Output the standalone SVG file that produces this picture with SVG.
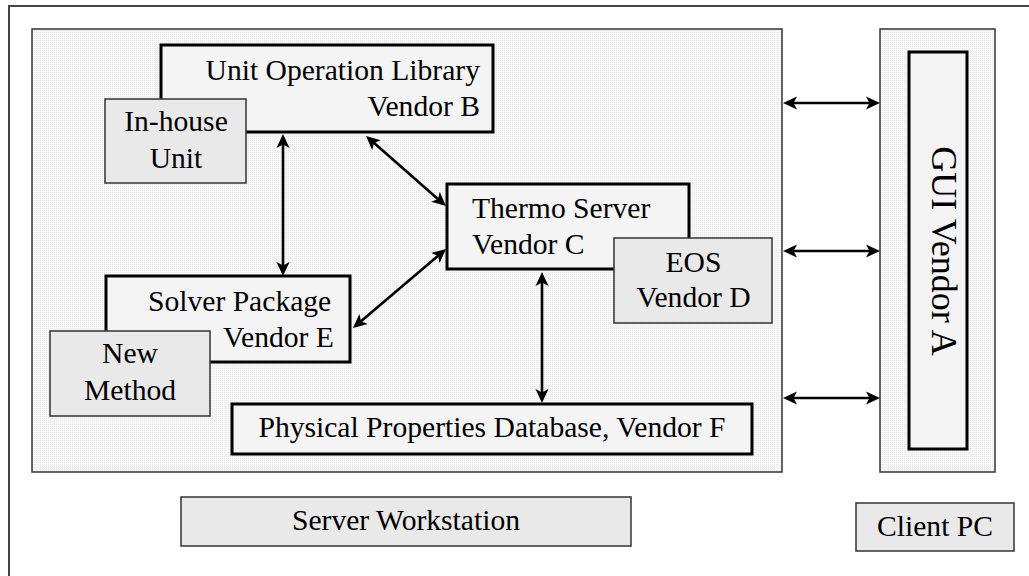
<svg xmlns="http://www.w3.org/2000/svg" width="1029" height="576" viewBox="0 0 1029 576">
<style>
text{font-family:"Liberation Serif","Times New Roman",serif;font-size:29.6px;fill:#000}
.c{text-anchor:middle}
.e{text-anchor:end}
.cont{fill:url(#dots);stroke:#333;stroke-width:1.5}
.main{fill:#f4f4f4;stroke:#000;stroke-width:3}
.sub{fill:#e9e9e9;stroke:#333;stroke-width:1.5}
.conn{stroke:#000;stroke-width:2.6;fill:none;marker-start:url(#ah);marker-end:url(#ah)}
</style>
<defs>
<pattern id="dots" width="2" height="2" patternUnits="userSpaceOnUse">
<rect width="2" height="2" fill="#f6f6f6"/>
<rect width="1" height="1" fill="#ebebeb"/>
</pattern>
<marker id="ah" viewBox="0 0 14 14" refX="10" refY="7" markerWidth="14" markerHeight="14" markerUnits="userSpaceOnUse" orient="auto-start-reverse">
<path d="M0,0.5 L14,7 L0,13.5 L3.5,7 Z" fill="#000"/>
</marker>
</defs>
<rect x="0" y="0" width="1029" height="576" fill="#fff"/>
<rect x="9" y="6" width="1030" height="580" fill="none" stroke="#444" stroke-width="2"/>
<g id="server-workstation-container"><rect class="cont" x="32" y="29" width="750" height="443"/></g>
<g id="client-pc-container"><rect class="cont" x="880" y="29" width="115" height="443"/></g>
<g id="gui-vendor-a">
<rect class="main" x="909" y="52" width="58" height="397"/>
<text class="c" transform="translate(932,251) rotate(90)" style="font-size:36px">GUI Vendor A</text>
</g>
<g id="unit-operation-library">
<rect class="main" x="161" y="45" width="332" height="87"/>
<text class="e" x="480" y="80">Unit Operation Library</text>
<text class="e" x="480" y="116">Vendor B</text>
</g>
<g id="in-house-unit">
<rect class="sub" x="105" y="99" width="141" height="84"/>
<text class="c" x="176" y="131">In-house</text>
<text class="c" x="176" y="168">Unit</text>
</g>
<g id="thermo-server">
<rect class="main" x="447" y="184" width="242" height="85"/>
<text x="472" y="218">Thermo Server</text>
<text x="472" y="254">Vendor C</text>
</g>
<g id="eos">
<rect class="sub" x="614" y="238" width="158" height="85"/>
<text class="c" x="693.5" y="272">EOS</text>
<text class="c" x="693.5" y="307">Vendor D</text>
</g>
<g id="solver-package">
<rect class="main" x="106" y="276" width="244" height="86"/>
<text x="148" y="311">Solver Package</text>
<text x="223" y="347">Vendor E</text>
</g>
<g id="new-method">
<rect class="sub" x="50" y="331" width="160" height="85"/>
<text class="c" x="130" y="363">New</text>
<text class="c" x="130" y="400">Method</text>
</g>
<g id="physical-properties-database">
<rect class="main" x="232" y="404" width="520" height="50"/>
<text class="c" x="492" y="437">Physical Properties Database, Vendor F</text>
</g>
<g id="server-workstation-label">
<rect class="sub" x="181" y="497" width="450" height="49"/>
<text class="c" x="406" y="530">Server Workstation</text>
</g>
<g id="client-pc-label">
<rect class="sub" x="856" y="503" width="158" height="48"/>
<text class="c" x="935" y="536">Client PC</text>
</g>
<g id="connectors">
<line class="conn" x1="283" y1="138" x2="283" y2="272"/>
<line class="conn" x1="369" y1="138.6" x2="443" y2="203.4"/>
<line class="conn" x1="443" y1="251.6" x2="356" y2="325.4"/>
<line class="conn" x1="542" y1="276" x2="542" y2="399"/>
<line class="conn" x1="787" y1="103" x2="876" y2="103"/>
<line class="conn" x1="787" y1="251" x2="876" y2="251"/>
<line class="conn" x1="787" y1="398" x2="876" y2="398"/>
</g>
</svg>
